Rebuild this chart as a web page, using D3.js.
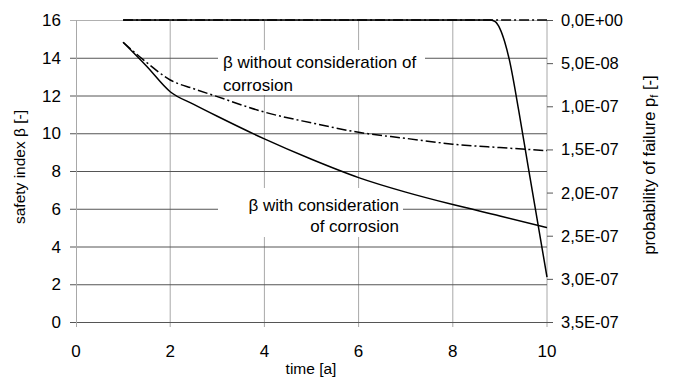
<html>
<head>
<script src="https://d3js.org/d3.v7.min.js"></script>
<style>
    body { margin: 0; background: #fff; }
    svg text { font-family: "Liberation Sans", Arial, sans-serif; fill: #000; }
</style>
</head>
<body>
<script>
    // values
    var timeBeta = [1, 1.5, 2, 2.5, 3, 4, 5, 6, 7, 8, 9, 10];
    var betaWith = [14.82, 13.55, 12.2, 11.53, 10.9, 9.7, 8.62, 7.65, 6.88, 6.22, 5.62, 5.0];
    var betaWithout = [14.82, 13.75, 12.82, 12.36, 11.94, 11.12, 10.55, 10.05, 9.73, 9.42, 9.24, 9.08];

    var timePf = [1, 2, 3, 4, 5, 6, 7, 8, 8.8, 8.9, 9.0, 9.1, 9.2, 9.4, 9.6, 9.8, 10];
    var pfWith = [0, 0, 0, 0, 0, 0, 0, 0, 0, 2e-9, 1.0e-8, 2.5e-8, 4.6e-8, 1.05e-7, 1.70e-7, 2.34e-7, 2.98e-7];
    var pfWithout = [0, 0, 0, 0, 0, 0, 0, 0, 0, 0, 0, 0];

    var xTicks = [0, 2, 4, 6, 8, 10];
    var betaTicks = [0, 2, 4, 6, 8, 10, 12, 14, 16];
    var pfTicks = [0, 5e-8, 1e-7, 1.5e-7, 2e-7, 2.5e-7, 3e-7, 3.5e-7];

    var width = 673, height = 378;

    var x = d3.scaleLinear().domain([0, 10]).range([76, 547]);
    var yBeta = d3.scaleLinear().domain([0, 16]).range([322, 20]);
    var yPf = d3.scaleLinear().domain([0, 3.5e-7]).range([20, 322]);

    var svg = d3.select("body").append("svg")
        .attr("width", width)
        .attr("height", height);

    // excel style number: 5,0E-08
    function sci(v) {
        var s = v.toExponential(1).split("e");
        var e = +s[1];
        var ex = (e < 0 ? "-" : "+") + (Math.abs(e) < 10 ? "0" : "") + Math.abs(e);
        return s[0].replace(".", ",") + "E" + ex;
    }

    // vertical grid
    svg.selectAll("line.vgrid")
        .data(xTicks.slice(1))
        .enter().append("line")
        .attr("class", "vgrid")
        .attr("x1", function (d) { return x(d); })
        .attr("x2", function (d) { return x(d); })
        .attr("y1", yBeta(16))
        .attr("y2", yBeta(0) + 5)
        .attr("stroke", "#a8a8a8");

    // horizontal grid
    svg.selectAll("line.hgrid")
        .data(betaTicks)
        .enter().append("line")
        .attr("class", "hgrid")
        .attr("x1", x(0) - 6)
        .attr("x2", x(10))
        .attr("y1", function (d) { return yBeta(d) + 0.5; })
        .attr("y2", function (d) { return yBeta(d) + 0.5; })
        .attr("stroke", function (d) { return d == 16 ? "#b0b0b0" : "#555"; });

    // right ticks
    svg.selectAll("line.rtick")
        .data(pfTicks)
        .enter().append("line")
        .attr("x1", x(10))
        .attr("x2", x(10) + 6)
        .attr("y1", function (d) { return yPf(d) + 0.5; })
        .attr("y2", function (d) { return yPf(d) + 0.5; })
        .attr("stroke", "#555");

    // left axis line
    svg.append("line")
        .attr("x1", x(0) + 0.5).attr("x2", x(0) + 0.5)
        .attr("y1", yBeta(16)).attr("y2", yBeta(0) + 5)
        .attr("stroke", "#a8a8a8");

    // white boxes behind the annotations
    svg.append("rect").attr("x", 218).attr("y", 50).attr("width", 207).attr("height", 45).attr("fill", "#fff");
    svg.append("rect").attr("x", 218).attr("y", 188).attr("width", 185).attr("height", 49).attr("fill", "#fff");

    var lineBeta = function (xs) {
        return d3.line()
            .x(function (d, i) { return x(xs[i]); })
            .y(function (d) { return yBeta(d); })
            .curve(d3.curveMonotoneX);
    };
    var linePf = function (xs) {
        return d3.line()
            .x(function (d, i) { return x(xs[i]); })
            .y(function (d) { return yPf(d); })
            .curve(d3.curveMonotoneX);
    };

    svg.append("path")
        .attr("d", linePf(timeBeta)(pfWithout))
        .attr("fill", "none").attr("stroke", "#000").attr("stroke-width", 1.5)
        .attr("stroke-dasharray", "10,3,2,3");

    svg.append("path")
        .attr("d", linePf(timePf)(pfWith))
        .attr("fill", "none").attr("stroke", "#000").attr("stroke-width", 1.5);

    svg.append("path")
        .attr("d", lineBeta(timeBeta)(betaWithout))
        .attr("fill", "none").attr("stroke", "#000").attr("stroke-width", 1.5)
        .attr("stroke-dasharray", "10,3,2,3");

    svg.append("path")
        .attr("d", lineBeta(timeBeta)(betaWith))
        .attr("fill", "none").attr("stroke", "#000").attr("stroke-width", 1.5);

    // tick labels
    svg.selectAll("text.yl")
        .data(betaTicks)
        .enter().append("text")
        .attr("x", 61)
        .attr("y", function (d) { return yBeta(d); })
        .attr("dy", "0.36em")
        .attr("text-anchor", "end")
        .style("font-size", "17px")
        .text(function (d) { return d; });

    svg.selectAll("text.yr")
        .data(pfTicks)
        .enter().append("text")
        .attr("x", 561)
        .attr("y", function (d) { return yPf(d); })
        .attr("dy", "0.36em")
        .style("font-size", "16.5px")
        .text(function (d) { return sci(d); });

    svg.selectAll("text.xl")
        .data(xTicks)
        .enter().append("text")
        .attr("x", function (d) { return x(d); })
        .attr("y", 357)
        .attr("text-anchor", "middle")
        .style("font-size", "17px")
        .text(function (d) { return d; });

    // axis titles
    svg.append("text")
        .attr("x", 311).attr("y", 374)
        .attr("text-anchor", "middle")
        .style("font-size", "15.5px")
        .text("time [a]");

    svg.append("text")
        .attr("transform", "translate(25,167) rotate(-90)")
        .attr("text-anchor", "middle")
        .style("font-size", "15.5px")
        .text("safety index β [-]");

    var rt = svg.append("text")
        .attr("transform", "translate(655,165) rotate(-90)")
        .attr("text-anchor", "middle")
        .style("font-size", "16.5px");
    rt.append("tspan").text("probability of failure p");
    rt.append("tspan").attr("dy", 3).style("font-size", "11px").text("f");
    rt.append("tspan").attr("dy", -3).text(" [-]");

    // annotations
    svg.append("text").attr("x", 223).attr("y", 68).style("font-size", "17px")
        .text("β without consideration of");
    svg.append("text").attr("x", 223).attr("y", 91).style("font-size", "17px")
        .text("corrosion");
    svg.append("text").attr("x", 399).attr("y", 211).attr("text-anchor", "end").style("font-size", "17px")
        .text("β with consideration");
    svg.append("text").attr("x", 399).attr("y", 232).attr("text-anchor", "end").style("font-size", "17px")
        .text("of corrosion");
</script>
</body>
</html>
